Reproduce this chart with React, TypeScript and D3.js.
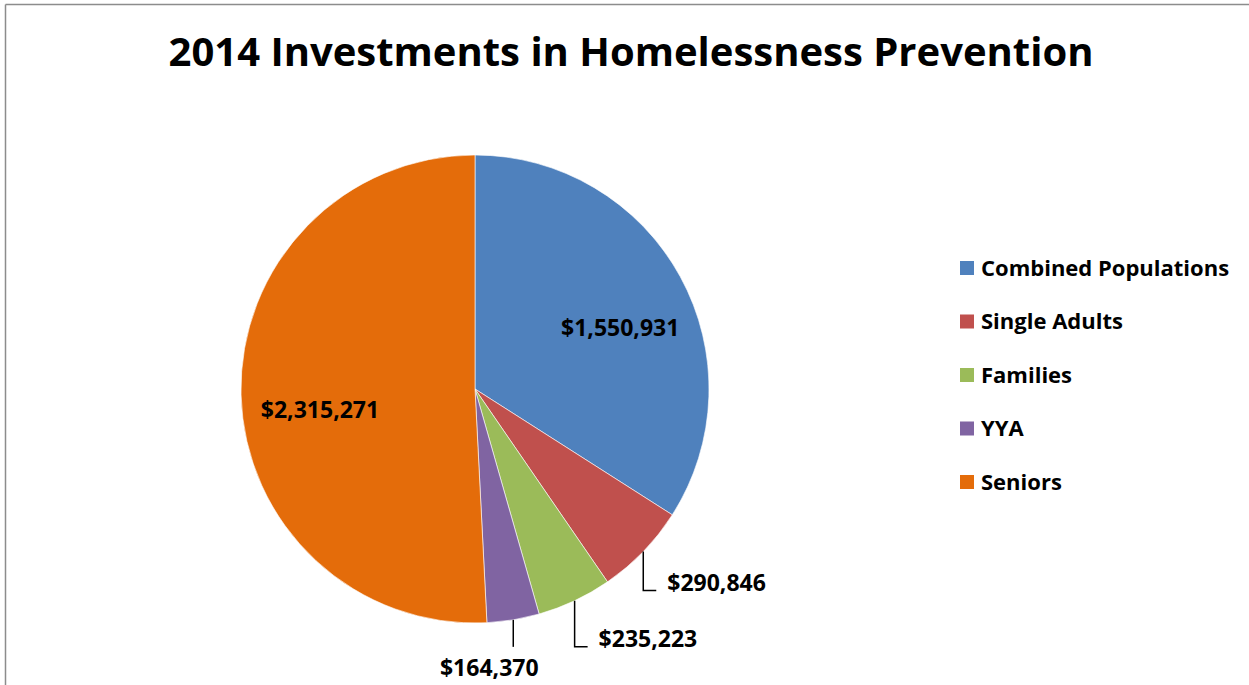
import { arc, pie, PieArcDatum } from 'd3';

// chart data
const categories = ['Combined Populations', 'Single Adults', 'Families', 'YYA', 'Seniors'];
const amounts = [1550931, 290846, 235223, 164370, 2315271];
const colors = ['#4F81BD', '#C0504D', '#9BBB59', '#8064A2', '#E46C0A'];
const title = '2014 Investments in Homelessness Prevention';

interface Slice {
  name: string;
  value: number;
  color: string;
}

const W = 1249;
const H = 685;
const cx = 475;
const cy = 389;
const radius = 234;
const FONT = '"Open Sans", Lato, sans-serif';
const labelSize = 23;

const fmt = (v: number): string => `$${v.toLocaleString('en-US')}`;

// where each label goes: inside, or with a leader line bent to the right / straight down
const labelMode = ['inside', 'right', 'right', 'down', 'inside'];
// small nudges for the inside labels (Excel doesn't sit them on the centroid)
const insideNudge: [number, number][] = [[18, 9], [0, 0], [0, 0], [0, 0], [-10, 17]];
const legendX = 960;
const legendY = 268;
const legendStep = 53.5;

function App(): JSX.Element {
  const slices: Slice[] = categories.map((name, i) => ({
    name,
    value: amounts[i],
    color: colors[i]
  }));

  const pieGen = pie<Slice>()
    .value((d) => d.value)
    .sort(null);
  const arcs = pieGen(slices);

  const arcGen = arc<PieArcDatum<Slice>>().innerRadius(0).outerRadius(radius);

  const pointAt = (angle: number, r: number): [number, number] => [
    Math.sin(angle) * r,
    -Math.cos(angle) * r
  ];

  return (
    <svg
      width={W}
      height={H}
      style={{ position: 'absolute', left: 0, top: 0, background: '#fff' }}
    >
      {/* frame */}
      <line x1={5.5} y1={4.5} x2={W} y2={4.5} stroke="#8c8c8c" strokeWidth={1.5} />
      <line x1={5.5} y1={4.5} x2={5.5} y2={H} stroke="#8c8c8c" strokeWidth={1.5} />

      <text
        x={631}
        y={66}
        textAnchor="middle"
        fontFamily={FONT}
        fontWeight="bold"
        fontSize={40}
        fill="#000"
      >
        {title}
      </text>

      <g transform={`translate(${cx},${cy})`}>
        {arcs.map((a) => (
          <path
            key={a.data.name}
            d={arcGen(a) || ''}
            fill={a.data.color}
            stroke="#fff"
            strokeWidth={0.6}
          />
        ))}

        {arcs.map((a, i) => {
          const mid = (a.startAngle + a.endAngle) / 2;
          const label = fmt(a.data.value);
          if (labelMode[i] === 'inside') {
            const [x, y] = pointAt(mid, radius * 0.62);
            return (
              <text
                key={`l${i}`}
                x={x + insideNudge[i][0]}
                y={y + insideNudge[i][1]}
                dy="0.35em"
                textAnchor="middle"
                fontFamily={FONT}
                fontWeight="bold"
                fontSize={labelSize}
                fill="#000"
              >
                {label}
              </text>
            );
          }
          const [x0, y0] = pointAt(mid, radius);
          if (labelMode[i] === 'right') {
            const yEnd = y0 + (i === 1 ? 39 : 46);
            return (
              <g key={`l${i}`}>
                <path
                  d={`M${x0},${y0}L${x0},${yEnd}L${x0 + 13},${yEnd}`}
                  fill="none"
                  stroke="#000"
                  strokeWidth={1.5}
                />
                <text
                  x={x0 + 24}
                  y={yEnd - 8}
                  dy="0.35em"
                  fontFamily={FONT}
                  fontWeight="bold"
                  fontSize={labelSize}
                  fill="#000"
                >
                  {label}
                </text>
              </g>
            );
          }
          const yEnd = y0 + 27;
          return (
            <g key={`l${i}`}>
              <line x1={x0} y1={y0} x2={x0} y2={yEnd} stroke="#000" strokeWidth={1.5} />
              <text
                x={x0 - 24}
                y={yEnd + 21}
                dy="0.35em"
                textAnchor="middle"
                fontFamily={FONT}
                fontWeight="bold"
                fontSize={labelSize}
                fill="#000"
              >
                {label}
              </text>
            </g>
          );
        })}
      </g>

      {/* legend */}
      {slices.map((s, i) => (
        <g key={s.name} transform={`translate(${legendX},${legendY + i * legendStep})`}>
          <rect x={0} y={-7} width={14} height={14} fill={s.color} />
          <text
            x={21}
            y={0}
            dy="0.35em"
            fontFamily={FONT}
            fontWeight="bold"
            fontSize={22}
            fill="#000"
          >
            {s.name}
          </text>
        </g>
      ))}
    </svg>
  );
}

export default App;
